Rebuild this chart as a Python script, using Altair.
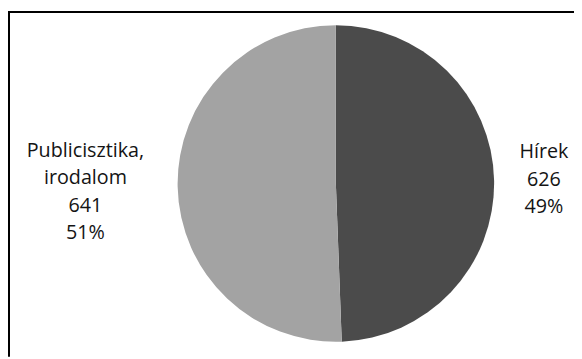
import altair as alt
import pandas as pd

categories = ["Hírek", "Publicisztika, irodalom"]
values = [626, 641]
order = [0, 1]
colors = ["#4b4b4b", "#a3a3a3"]

df = pd.DataFrame({"cat": categories, "value": values, "ord": order})

W, H = 574, 351
CX, CY = 332.5, 175.5
R = 160.5

arcs = alt.Chart(df).mark_arc(outerRadius=R).encode(
    theta=alt.Theta("value:Q", stack=True),
    order=alt.Order("ord:Q"),
    x=alt.value(CX),
    y=alt.value(CY),
    color=alt.Color("cat:N", scale=alt.Scale(domain=categories, range=colors), legend=None),
)

lbase = alt.Chart(df).transform_joinaggregate(total="sum(value)").transform_stack(
    stack="value", groupby=[], as_=["v0", "v1"], sort=[alt.SortField("ord", order="ascending")]
).transform_calculate(
    ang="PI * (datum.v0 + datum.v1) / datum.total",
    label="replace(datum.cat, ', ', ',\\n') + '\\n' + datum.value + '\\n' + format(datum.value / datum.total, '.0%')",
)

def label_layer(cat, radius, dy):
    return lbase.transform_filter(alt.datum.cat == cat).mark_text(
        radius=radius, dy=dy, lineBreak="\n", font="Open Sans", fontSize=20,
        lineHeight=28, color="#141414", align="center", baseline="middle",
    ).encode(
        theta=alt.Theta("ang:Q", scale=None),
        x=alt.value(CX),
        y=alt.value(CY),
        text="label:N",
    )

lab1 = label_layer(categories[0], 211, -28)
lab2 = label_layer(categories[1], 254, -38)

frame_top = alt.Chart(df).mark_rule(color="#000000", strokeWidth=2).encode(
    x=alt.value(0), x2=alt.value(W), y=alt.value(1.5)
)
frame_left = alt.Chart(df).mark_rule(color="#000000", strokeWidth=2).encode(
    x=alt.value(1), y=alt.value(1), y2=alt.value(H)
)

chart = alt.layer(arcs, lab1, lab2, frame_top, frame_left).properties(
    width=W, height=H, padding=0, autosize=alt.AutoSizeParams(type="none"),
    background="white",
).configure_view(stroke=None)

chart.save("out.html", embed_options={"renderer": "svg", "actions": False})
